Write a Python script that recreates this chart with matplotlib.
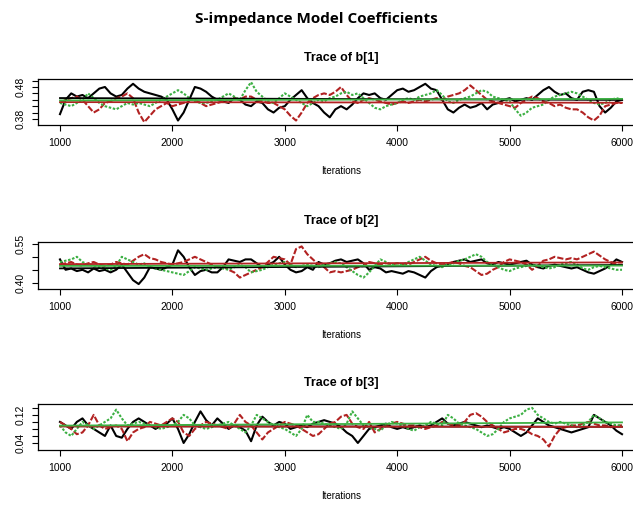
import numpy as np
import matplotlib.pyplot as plt

plt.rcParams["font.family"] = ["Liberation Sans", "DejaVu Sans"]

iterations = np.arange(1000, 6001, 50)

b1_black = [0.395, 0.44, 0.46, 0.45, 0.455, 0.445, 0.46, 0.475, 0.48, 0.46,
            0.45, 0.455, 0.475, 0.49, 0.475, 0.465, 0.46, 0.455, 0.45, 0.44,
            0.41, 0.375, 0.40, 0.44, 0.48, 0.475, 0.465, 0.45, 0.44, 0.435,
            0.43, 0.445, 0.44, 0.425, 0.42, 0.435, 0.43, 0.41, 0.40, 0.415,
            0.42, 0.44, 0.455, 0.47, 0.445, 0.43, 0.42, 0.40, 0.385, 0.41,
            0.42, 0.41, 0.425, 0.445, 0.46, 0.455, 0.46, 0.445, 0.44, 0.455,
            0.47, 0.475, 0.465, 0.47, 0.48, 0.49, 0.475, 0.47, 0.44, 0.41,
            0.40, 0.415, 0.425, 0.415, 0.42, 0.43, 0.41, 0.425, 0.43, 0.44,
            0.445, 0.435, 0.44, 0.445, 0.44, 0.455, 0.47, 0.48, 0.465, 0.455,
            0.46, 0.445, 0.44, 0.465, 0.47, 0.465, 0.42, 0.40, 0.415, 0.435,
            0.44]
b1_red = [0.43, 0.44, 0.445, 0.45, 0.44, 0.42, 0.40, 0.41, 0.43, 0.435,
          0.445, 0.45, 0.46, 0.445, 0.40, 0.37, 0.39, 0.41, 0.42, 0.43,
          0.42, 0.425, 0.43, 0.44, 0.44, 0.43, 0.42, 0.425, 0.43, 0.435,
          0.44, 0.445, 0.44, 0.45, 0.45, 0.44, 0.435, 0.43, 0.43, 0.42,
          0.41, 0.39, 0.375, 0.40, 0.43, 0.445, 0.455, 0.46, 0.455, 0.465,
          0.48, 0.455, 0.435, 0.43, 0.44, 0.445, 0.44, 0.435, 0.43, 0.425,
          0.43, 0.435, 0.43, 0.435, 0.44, 0.435, 0.44, 0.445, 0.44, 0.45,
          0.455, 0.46, 0.47, 0.485, 0.47, 0.455, 0.44, 0.435, 0.43, 0.425,
          0.42, 0.415, 0.43, 0.44, 0.45, 0.445, 0.435, 0.43, 0.42, 0.425,
          0.415, 0.41, 0.41, 0.40, 0.385, 0.375, 0.39, 0.42, 0.425, 0.43,
          0.43]
b1_green = [0.43, 0.425, 0.42, 0.43, 0.44, 0.46, 0.445, 0.43, 0.42, 0.415,
            0.41, 0.42, 0.43, 0.425, 0.43, 0.425, 0.42, 0.43, 0.44, 0.45,
            0.46, 0.47, 0.46, 0.445, 0.435, 0.43, 0.43, 0.435, 0.44, 0.45,
            0.46, 0.45, 0.44, 0.47, 0.495, 0.465, 0.45, 0.435, 0.43, 0.445,
            0.46, 0.45, 0.44, 0.43, 0.42, 0.43, 0.44, 0.435, 0.445, 0.45,
            0.46, 0.465, 0.455, 0.46, 0.445, 0.43, 0.415, 0.41, 0.42, 0.425,
            0.43, 0.44, 0.445, 0.44, 0.45, 0.455, 0.46, 0.47, 0.455, 0.435,
            0.43, 0.44, 0.445, 0.45, 0.46, 0.47, 0.465, 0.45, 0.445, 0.44,
            0.435, 0.41, 0.39, 0.40, 0.415, 0.42, 0.425, 0.44, 0.45, 0.455,
            0.46, 0.465, 0.46, 0.45, 0.44, 0.43, 0.425, 0.43, 0.44, 0.445,
            0.44]

b2_black = [0.49, 0.45, 0.455, 0.445, 0.45, 0.44, 0.455, 0.445, 0.45, 0.44,
            0.45, 0.47, 0.44, 0.41, 0.395, 0.42, 0.46, 0.455, 0.45, 0.46,
            0.47, 0.525, 0.50, 0.46, 0.43, 0.445, 0.45, 0.44, 0.44, 0.46,
            0.49, 0.485, 0.48, 0.49, 0.49, 0.475, 0.46, 0.47, 0.48, 0.50,
            0.47, 0.45, 0.44, 0.445, 0.46, 0.45, 0.48, 0.47, 0.475, 0.485,
            0.49, 0.48, 0.485, 0.49, 0.475, 0.45, 0.46, 0.455, 0.44, 0.445,
            0.44, 0.435, 0.445, 0.44, 0.43, 0.42, 0.445, 0.46, 0.465, 0.47,
            0.48, 0.485, 0.49, 0.48, 0.485, 0.49, 0.475, 0.47, 0.48, 0.475,
            0.47, 0.475, 0.48, 0.485, 0.47, 0.46, 0.455, 0.465, 0.47, 0.465,
            0.46, 0.455, 0.46, 0.45, 0.44, 0.435, 0.445, 0.455, 0.47, 0.49,
            0.48]
b2_red = [0.47, 0.475, 0.48, 0.47, 0.465, 0.475, 0.48, 0.47, 0.465, 0.47,
          0.48, 0.475, 0.47, 0.485, 0.50, 0.51, 0.495, 0.49, 0.48, 0.475,
          0.47, 0.475, 0.48, 0.49, 0.50, 0.49, 0.48, 0.47, 0.46, 0.465,
          0.45, 0.44, 0.42, 0.43, 0.44, 0.45, 0.46, 0.48, 0.50, 0.495,
          0.49, 0.47, 0.53, 0.54, 0.51, 0.49, 0.47, 0.46, 0.44, 0.445,
          0.44, 0.445, 0.45, 0.46, 0.465, 0.48, 0.475, 0.47, 0.465, 0.47,
          0.475, 0.47, 0.47, 0.48, 0.49, 0.50, 0.485, 0.475, 0.47, 0.475,
          0.48, 0.475, 0.465, 0.46, 0.445, 0.43, 0.435, 0.45, 0.46, 0.48,
          0.49, 0.485, 0.48, 0.47, 0.45, 0.465, 0.485, 0.49, 0.50, 0.495,
          0.49, 0.495, 0.49, 0.50, 0.51, 0.52, 0.505, 0.49, 0.48, 0.47,
          0.47]
b2_green = [0.48, 0.485, 0.49, 0.50, 0.48, 0.47, 0.465, 0.46, 0.455, 0.45,
            0.465, 0.50, 0.49, 0.48, 0.47, 0.475, 0.46, 0.455, 0.45, 0.445,
            0.44, 0.435, 0.43, 0.445, 0.46, 0.455, 0.45, 0.455, 0.46, 0.455,
            0.45, 0.46, 0.47, 0.46, 0.44, 0.445, 0.45, 0.46, 0.47, 0.475,
            0.48, 0.47, 0.46, 0.465, 0.47, 0.465, 0.46, 0.47, 0.475, 0.48,
            0.475, 0.46, 0.445, 0.43, 0.42, 0.44, 0.465, 0.49, 0.48, 0.47,
            0.475, 0.47, 0.48, 0.49, 0.50, 0.485, 0.47, 0.465, 0.46, 0.47,
            0.475, 0.485, 0.49, 0.50, 0.51, 0.50, 0.48, 0.47, 0.46, 0.45,
            0.445, 0.455, 0.46, 0.465, 0.47, 0.465, 0.46, 0.455, 0.46, 0.47,
            0.475, 0.48, 0.47, 0.455, 0.45, 0.46, 0.465, 0.46, 0.455, 0.45,
            0.45]

b3_black = [0.10, 0.09, 0.08, 0.10, 0.11, 0.09, 0.08, 0.07, 0.06, 0.09,
            0.06, 0.055, 0.08, 0.10, 0.11, 0.10, 0.09, 0.08, 0.09, 0.095,
            0.11, 0.08, 0.04, 0.065, 0.10, 0.13, 0.105, 0.09, 0.11, 0.095,
            0.08, 0.09, 0.085, 0.075, 0.045, 0.09, 0.115, 0.10, 0.09, 0.10,
            0.095, 0.08, 0.085, 0.09, 0.085, 0.095, 0.10, 0.105, 0.10, 0.095,
            0.085, 0.07, 0.06, 0.04, 0.06, 0.08, 0.085, 0.09, 0.095, 0.085,
            0.08, 0.085, 0.08, 0.085, 0.09, 0.085, 0.09, 0.10, 0.11, 0.095,
            0.09, 0.095, 0.10, 0.095, 0.09, 0.085, 0.09, 0.085, 0.08, 0.085,
            0.08, 0.07, 0.06, 0.07, 0.09, 0.11, 0.10, 0.09, 0.085, 0.08,
            0.075, 0.07, 0.075, 0.08, 0.085, 0.12, 0.11, 0.10, 0.09, 0.075,
            0.065]
b3_red = [0.10, 0.09, 0.08, 0.065, 0.07, 0.09, 0.12, 0.09, 0.08, 0.085,
          0.09, 0.08, 0.045, 0.07, 0.08, 0.085, 0.10, 0.095, 0.09, 0.10,
          0.11, 0.10, 0.07, 0.06, 0.08, 0.09, 0.10, 0.095, 0.09, 0.085,
          0.08, 0.095, 0.12, 0.10, 0.09, 0.07, 0.05, 0.07, 0.08, 0.09,
          0.10, 0.095, 0.09, 0.08, 0.07, 0.06, 0.065, 0.08, 0.095, 0.10,
          0.115, 0.12, 0.095, 0.085, 0.08, 0.10, 0.07, 0.08, 0.09, 0.095,
          0.10, 0.095, 0.09, 0.09, 0.085, 0.08, 0.085, 0.09, 0.10, 0.095,
          0.09, 0.09, 0.10, 0.12, 0.125, 0.115, 0.10, 0.09, 0.08, 0.07,
          0.075, 0.08, 0.08, 0.075, 0.065, 0.06, 0.05, 0.03, 0.06, 0.08,
          0.085, 0.09, 0.09, 0.095, 0.10, 0.095, 0.09, 0.09, 0.085, 0.09,
          0.09]
b3_green = [0.09, 0.07, 0.06, 0.08, 0.10, 0.09, 0.08, 0.09, 0.10, 0.11,
            0.135, 0.11, 0.09, 0.095, 0.10, 0.095, 0.09, 0.085, 0.08, 0.085,
            0.09, 0.10, 0.12, 0.11, 0.09, 0.085, 0.08, 0.085, 0.09, 0.095,
            0.10, 0.09, 0.08, 0.07, 0.09, 0.12, 0.11, 0.10, 0.09, 0.085,
            0.08, 0.07, 0.06, 0.08, 0.12, 0.10, 0.10, 0.095, 0.09, 0.085,
            0.08, 0.095, 0.13, 0.11, 0.09, 0.085, 0.08, 0.075, 0.09, 0.10,
            0.095, 0.09, 0.08, 0.075, 0.085, 0.09, 0.10, 0.095, 0.09, 0.12,
            0.11, 0.095, 0.09, 0.085, 0.08, 0.07, 0.06, 0.065, 0.08, 0.10,
            0.11, 0.115, 0.12, 0.135, 0.14, 0.12, 0.11, 0.10, 0.095, 0.10,
            0.095, 0.09, 0.085, 0.09, 0.10, 0.12, 0.11, 0.10, 0.095, 0.09,
            0.09]

panel_titles = ["Trace of b[1]", "Trace of b[2]", "Trace of b[3]"]
panel_chains = [(b1_black, b1_red, b1_green),
                (b2_black, b2_red, b2_green),
                (b3_black, b3_red, b3_green)]
panel_ylims = [(0.361, 0.505), (0.376, 0.557), (0.020, 0.151)]
panel_yticks = [np.arange(0.38, 0.501, 0.02), np.arange(0.40, 0.551, 0.05),
                np.arange(0.04, 0.141, 0.02)]
panel_ylabels = [("0.38", "0.48"), ("0.40", "0.55"), ("0.04", "0.12")]
xticks = [1000, 2000, 3000, 4000, 5000, 6000]

chain_colors = ["black", "#B22222", "#3CB043"]
chain_styles = ["-", (0, (3, 1)), (0, (1.2, 0.8))]

fig = plt.figure(figsize=(6.33, 5.05), dpi=100)
fig.text(0.5, 0.962, "S-impedance Model Coefficients", ha="center", va="center",
         fontsize=11, fontweight="bold", family=["Open Sans", "DejaVu Sans"])

# axes boxes in pixels (top, bottom) of the 505 px tall image
boxes = [(79, 125), (242, 289), (404, 450)]
left_px, width_px = 37.5, 607

for k, ax_box in enumerate(boxes):
    top, bottom = ax_box
    ax = fig.add_axes([left_px / 633, 1 - bottom / 505, width_px / 633, (bottom - top) / 505])
    for vals, col, ls in zip(panel_chains[k], chain_colors, chain_styles):
        ax.plot(iterations, vals, color=col, ls=ls, lw=1.5)
    for vals, col in zip(panel_chains[k], chain_colors):
        slope, icpt = np.polyfit(iterations, vals, 1)
        ends = np.array([iterations[0], iterations[-1]])
        ax.plot(ends, slope * ends + icpt, color=col, lw=1.3)
    ax.set_xlim(800, 6200)
    ax.set_ylim(*panel_ylims[k])
    ax.set_xticks(xticks)
    ax.set_xticklabels([str(t) for t in xticks], fontsize=7.5)
    ticks = panel_yticks[k]
    ax.set_yticks(ticks)
    labs = [f"{t:.2f}" if f"{t:.2f}" in panel_ylabels[k] else "" for t in ticks]
    ax.set_yticklabels(labs, fontsize=7.5, rotation=90, va="center")
    ax.tick_params(axis="both", direction="out", length=4.5, width=0.8, pad=4)
    ax.tick_params(axis="x", pad=5)
    for sp in ax.spines.values():
        sp.set_linewidth(0.9)
    ax.set_title(panel_titles[k], fontsize=9, fontweight="bold", pad=13)
    ax.set_xlabel("Iterations", fontsize=7, labelpad=13)

plt.savefig("out.png", dpi=100)
